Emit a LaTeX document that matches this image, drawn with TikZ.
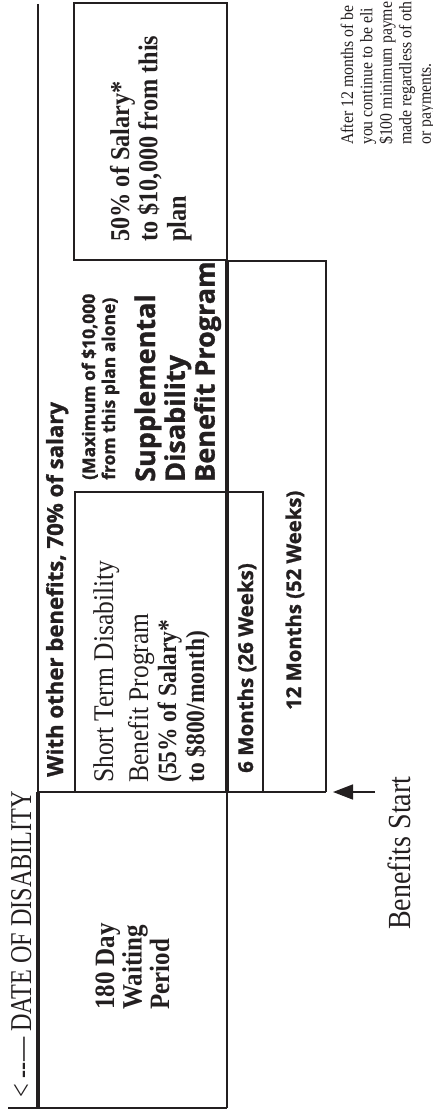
\documentclass[tikz,border=0pt]{standalone}
\usepackage{graphicx}
\usepackage{fontspec}
\setmainfont{Liberation Serif}
\newfontfamily\gillfont{Open Sans}[BoldFeatures={FakeBold=1.2}]
\usetikzlibrary{arrows.meta}
\definecolor{ink}{RGB}{35,31,32}
% #1 vertical stretch, #2 column alignment, #3 font setup, #4 lines
\newcommand\rtext[4]{\scalebox{1}[#1]{#3\begin{tabular}[t]{@{}#2@{}}#4\end{tabular}}}
\tikzset{
  rline/.style={draw=ink, line width=1.8pt, line join=miter},
  hline/.style={draw=ink, line width=3.6pt},
  lbl/.style={rotate=90, inner sep=0pt, anchor=base west, text=ink},
  arrowline/.style={draw=ink, line width=1.6pt, -{Triangle[length=20pt,width=15pt]}},
}
\begin{document}
\begin{tikzpicture}[x=1pt,y=-1pt]
\useasboundingbox (0,0) rectangle (433,1113);

% frame lines
\draw[rline] (38,4) -- (38,792);
\draw[hline] (38,792) -- (38,1108);
\draw[rline] (8,1108) -- (227,1108);
\draw[rline] (227,792) -- (227,1108);
\draw[rline] (38,792) -- (326,792);
\draw[rline] (75,792) -- (75,492) -- (263,492) -- (263,792);
\draw[hline] (227,260) -- (227,792);
\draw[rline] (74,3) rectangle (227,260);
\draw[rline] (227,261) -- (326,261) -- (326,792);

% texts
\node[lbl] (date) at (31,1098)
  {\rtext{1.25}{l}{\fontsize{24.2}{24}\selectfont}{< -{}-— DATE OF DISABILITY}};
\node[lbl] (bstart) at (410,930)
  {\rtext{1.15}{l}{\fontsize{28}{28}\selectfont}{Benefits Start}};
\node[lbl] (note) at (353,145)
  {\rtext{1.12}{l}{\fontsize{15.8}{17.4}\selectfont}{After 12 months of be\\you continue to be eli\\\$100 minimum payme\\made regardless of oth\\or payments.}};
\node[lbl] (fifty) at (129,242)
  {\rtext{1.12}{l}{\fontsize{24.3}{25.4}\selectfont\bfseries}{50\% of Salary*\\to \$10,000 from this\\plan}};
\node[lbl] (withother) at (63,777)
  {\rtext{1}{l}{\gillfont\bfseries\fontsize{22.2}{24}\selectfont}{With other benefits, 70\% of salary}};
\node[lbl] (maxi) at (95,480)
  {\rtext{1}{l}{\gillfont\bfseries\fontsize{17.5}{20}\selectfont}{(Maximum of \$10,000\\from this plan alone)}};
\node[lbl] (supp) at (155,482)
  {\rtext{1}{l}{\gillfont\bfseries\fontsize{27}{29.8}\selectfont}{Supplemental\\Disability\\Benefit Program}};
\node[lbl] (std) at (113,783)
  {\rtext{1.12}{l}{\fontsize{25.5}{25}\selectfont}{Short Term Disability\\[6pt]Benefit Program\\{\bfseries\fontsize{23.5}{25}\selectfont (55\% of Salary*}\\{\bfseries\fontsize{23.5}{25}\selectfont to \$800/month)}}};
\node[lbl] (sixm) at (253,773)
  {\rtext{1}{l}{\gillfont\bfseries\fontsize{20.5}{24}\selectfont}{6 Months (26 Weeks)}};
\node[lbl] (twelvem) at (301,710)
  {\rtext{1}{l}{\gillfont\bfseries\fontsize{20.3}{24}\selectfont}{12 Months (52 Weeks)}};
\node[lbl] (waitp) at (114,1010)
  {\rtext{1.12}{l}{\fontsize{25}{24.1}\selectfont\bfseries}{180 Day\\Waiting\\Period}};

% arrow
\coordinate (bsTail) at (375,792);
\coordinate (bsTip) at (333,792);
\draw[arrowline] (bsTail) -- (bsTip);
\end{tikzpicture}
\end{document}
